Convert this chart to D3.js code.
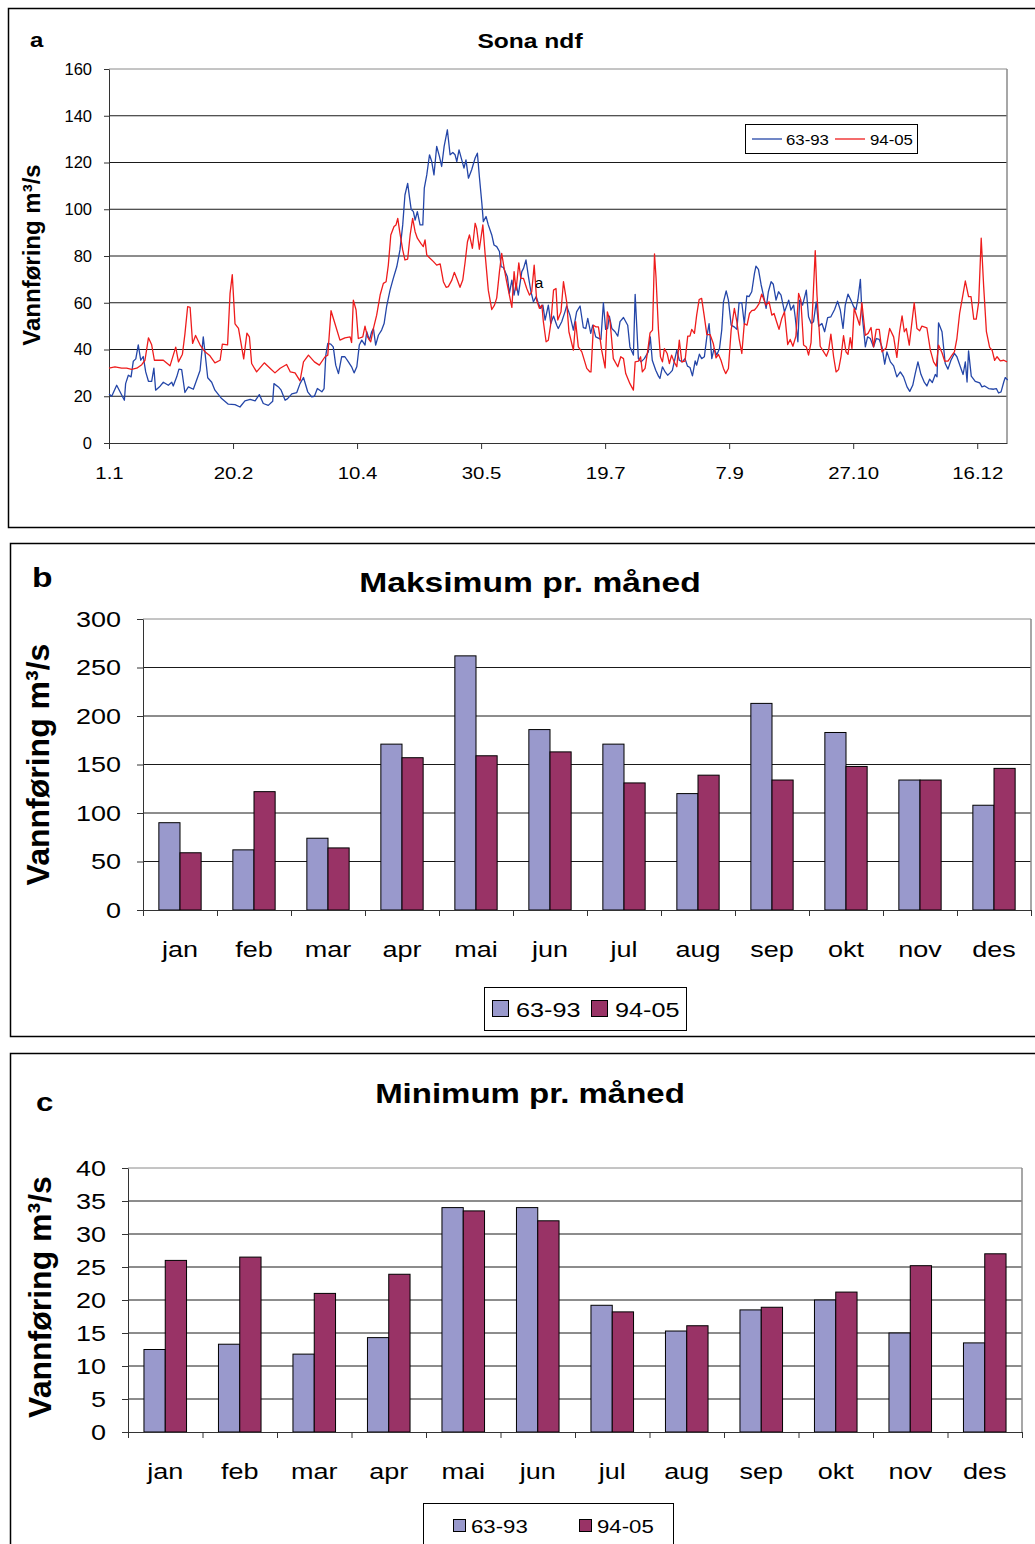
<!DOCTYPE html>
<html><head><meta charset="utf-8">
<script src="https://cdn.jsdelivr.net/npm/d3@7"></script>
<style>body{margin:0;background:#fff}svg{display:block}text{font-family:"Liberation Sans",Arial,sans-serif}</style>
</head><body><svg id="chart" width="1035" height="1544"></svg>
<script>
// ---------- DATA ----------
const seriesNames = ["63-93", "94-05"];
// daily discharge, [day of year (0 = 1 Jan), m3/s]
const flow6393 = [[0,21],[1.1,20],[3.1,24.7],[6.2,18.3],[6.7,25.4],[7.8,29],[8.9,28.3],[9.8,35],[10.8,36],[11.8,42],[12.8,35.4],[13.8,37],[14.8,30.4],[15.9,26.4],[17.2,26.4],[18.1,32],[18.8,22.6],[20.6,24.3],[21.9,26],[23.9,24.7],[25.3,26],[25.9,24.4],[27.3,28.3],[28.2,31.6],[29.3,31.4],[30.6,21.6],[32,24],[34,23],[36.7,31],[38,45.4],[39.8,27.9],[41.4,26],[42.7,22.6],[45.4,19],[48.1,16.6],[50.8,16.4],[52.8,15.4],[54.8,18],[56.9,18.7],[58.9,18],[60.6,20.7],[62.2,16.9],[64.2,16.1],[66,17.9],[66.5,25.4],[68.3,24],[69.4,22.6],[71,18.3],[72,19],[73.7,21],[75.7,21.6],[77,25.4],[78.4,28],[80.1,21.9],[81.7,19.7],[82.8,20],[84,23.3],[85.8,21.9],[86.7,23.3],[87.4,37.6],[88.2,42.6],[89.4,42.3],
[90.4,41.1],[91.4,33.3],[92.5,29.7],[93.8,36.9],[95.1,36.9],[96.5,34.7],[97.8,32.6],[98.8,30],[99.9,32.6],[100.9,41.9],[101.9,44],[103.2,41.9],[103.9,47.6],[105,44],[105.9,47.6],[106.6,49],[107.5,41.9],[108.6,46.1],[109.9,48.3],[110.9,51.1],[111.9,58.3],[113.3,65.4],[114.6,70.4],[116,75.4],[117.3,82.6],[118.4,93.3],[119.3,106.1],[120.4,111.1],[121.1,105.4],[121.8,100],[122.7,99],[123.4,95.4],[124.3,99],[125.4,93.3],[126.5,93.3],[127.1,109],[128.1,114.7],[129.2,123.3],[130.1,120.4],[131,114.7],[132.1,126.9],[133.2,122.6],[134.1,118.3],[135.1,126.9],[136.4,134],[137.5,123.3],[138.6,124.3],[139.5,123.3],[140.2,120.4],[141.1,125.4],[142.2,121.1],[143.1,117.6],[143.9,121.1],[144.9,113.3],[146.2,116.9],[147.6,121.9],[148.5,124],[149.3,114],[150.3,102.6],[150.9,94.7],[152,96.9],[152.9,93.3],[154.3,89],[155.2,84.7],[156.3,84],[157.4,81.9],[158.1,75.4],[159,75.1],[159.7,73.3],[160.6,71.1],[161.4,64],[162.4,69.7],[163.3,63.3],[164.1,68.3],[165,63.3],[166.4,73.3],[167.1,74.7],[168.1,78.3],[169.1,71.1],[170.1,64.7],[171.1,60.4],[172.2,62.6],[173.1,59.7],[174,57.6],[174.9,59],[175.8,52.6],[177.1,59],[178.1,51.1],[179.2,54.3],[180.5,50.4],
[181.1,49],[182.5,51.9],[183.8,56.1],[184.5,58.6],[185.8,54.7],[187.2,48.3],[188.5,56.1],[189.9,58.6],[191.2,49.4],[192.2,49],[193,53.3],[194.2,46.9],[195,50.4],[196.2,45.4],[198.3,44.3],[199.3,60],[200.2,48.6],[201,49],[201.7,54.3],[202.7,49],[204,47.6],[205.1,45.7],[206,51.9],[207.4,53.7],[209.1,50.4],[210,41.1],[211.4,37.6],[212.1,63.6],[213.4,36.1],[214.5,34.7],[215.8,36.1],[217.4,39],[218.2,45.4],[219,35.4],[220.4,31.1],[221.5,28.6],[222.1,27.6],[223.1,32.6],[224.2,30.4],[225.2,29],[226.2,30],[227.1,31.1],[228.9,39.7],[229.9,35.4],[231.1,34.7],[232.2,36.1],[233.2,32.9],[234.2,32.3],[235.2,28.7],[236.3,35.1],[236.9,33.3],[238,38],[238.9,36.1],[240,36.9],[241,45.4],[241.9,51.1],[243,36.1],[243.9,40.4],[245,37.6],[246.1,40.4],[247,48.3],[247.7,60.4],[248.8,65.1],[249.7,61.1],[250.8,50.4],[252,49.7],[253.1,48.6],[254,60],[255.1,60],[256.1,50.9],[257.1,62.9],[258,62.6],[259.1,64.7],[260.2,72.6],[260.8,75.7],[261.8,74.3],[262.9,67.6],[263.8,63.3],[264.9,57.6],[265.8,64.7],[266.9,69],[267.8,67.9],[268.9,61.1],[269.9,64.7],[270.9,63.3],[272.3,56.1],
[274,61.1],[274.9,56.9],[276,59],[276.6,54],[277.7,43.3],[278.4,61.1],[279.6,59],[281.1,65.4],[282,54],[283.1,51.1],[284,51.9],[285.1,60.4],[286.1,50],[287.4,51.1],[288.5,47.6],[289.7,53.6],[291,54],[292.5,57.1],[293.7,60.7],[294.8,56.9],[295.9,49],[296.8,59],[297.9,63.7],[299.1,61.1],[300.2,58.3],[301.1,57.1],[301.9,61.4],[302.9,70],[303.5,56.1],[304.9,41.1],[305.8,45.4],[306.9,44.7],[308.2,41.1],[309.3,44.7],[310.5,44.3],[311.6,41.1],[312.7,33.7],[313.6,39],[315,34.7],[316.3,33],[317.6,28.3],[319,30.4],[320.3,28.3],[321.7,24],[322.8,22.1],[324,24.7],[325,29.7],[326.1,34.7],[327.3,29.4],[328.7,25.9],[329.7,24.4],[330.8,27.3],[331.9,25.9],[333.1,29.3],[333.8,28.3],[334.4,51.4],[335.8,47.6],[337.1,34],[338.2,31.6],[339.4,35.4],[340.8,38.3],[341.8,36.9],[343.2,32.6],[344.3,29.3],[345.2,34.7],[345.9,26.1],[346.5,39.4],[347.6,28.6],[349.2,26.4],[351,25.7],[351.9,24],[353,24.4],[354.6,23.3],[356.6,23],[357.7,23.3],[358.6,21.4],[359.6,21.9],[360.7,26.1],[361.3,28],[362.3,26.9]];
const flow9405 = [[0,32],[2.4,32.6],[5.1,32],[7.1,32],[9.1,31.5],[11.2,32],[13.2,33.5],[14.5,35.4],[15.9,45],[17.2,42],[18.3,35.4],[21.9,35.4],[24.6,33],[26.9,41],[28,34.7],[29.6,38],[30.6,46.6],[31.7,58.3],[32.7,58],[33.7,42.6],[34.9,46],[36.7,42],[38.7,39],[40.7,37.3],[42.7,34.3],[44.8,35.4],[45.7,42.3],[47.8,42],[48.8,64],[49.7,72],[50.8,51],[52.2,49],[54.3,36],[55.6,47],[56.6,45.4],[57.5,34],[59.5,30.4],[62.6,34.3],[64.9,32],[66.9,30],[69,32],[71.6,33.6],[73.1,30.4],[75,30],[77,26.6],[78.4,34.7],[80.4,37.6],[82.8,34.7],[84.8,33.3],[87.1,36.9],[88.2,37.6],[89.5,56.6],
[91.1,51],[93.1,44],[95.1,45],[97.2,45.4],[97.8,43],[98.5,61.1],[99.6,56.9],[100.5,44.7],[102.3,45.4],[103.2,50],[104.2,45.4],[105.5,43.3],[106.6,49],[107.9,54.7],[109.3,63.3],[110.6,68.3],[111.7,69],[112.6,76.1],[113.6,89],[114.9,92.6],[115.7,93.3],[116.4,96.1],[117.3,89.7],[118.4,82.6],[119.3,78.3],[120.4,78.7],[121.4,89],[122.4,96.1],[123.4,90.4],[124.3,87.6],[125.7,85.4],[126.7,84],[127.4,86.9],[128.1,80.4],[129.4,79],[130.8,77.6],[132.1,76.1],[133.5,76.6],[134.8,69],[135.9,66.6],[136.8,66.9],[138.2,69.7],[139.2,73],[140.2,70.4],[141.5,66.6],[142.6,69.7],[143.5,76.9],[144.5,86.1],[145.3,89],[146.5,83.3],[147.6,94],[148.2,91.9],[149.3,82.9],[150.7,93.3],[151.6,81.1],[152.9,65.4],[154.3,57.1],[155.4,59],[156.3,62.1],[157.4,73.3],[158.3,81.1],[159.3,74.7],[160.3,69],[161.4,63.3],[162.4,58],[163.3,73.3],[164.1,65.4],[165.2,77.1],[166,70.4],[167.1,70.4],[168.4,66.1],[169.5,63.3],[170.4,64.7],[171.4,76.1],[172.4,61.1],[173.5,57.6],[174.5,59],[175.1,51.9],[176.2,43.3],[177.1,44],[178.1,51.1],[179.2,65.4],[180.2,66.1],
[180.9,52.6],[182.2,56.1],[183.2,69],[184.5,60.4],[185.4,47.6],[187.2,39.7],[188.1,51.9],[189.2,41.1],[190.6,39],[192.6,31.9],[193.9,30.4],[194.3,30.4],[195.3,50.4],[196.2,49.7],[197.3,49.7],[198.6,39.7],[200,32.1],[200.9,56.1],[202,51.9],[203.3,36.1],[205.1,32.6],[206.3,36.9],[207.4,36.1],[208.3,29.7],[210,25.4],[211.4,22.6],[212.1,34.7],[213.4,35],[214.3,36.9],[215,30.4],[216.1,31.9],[217.2,39.7],[218.1,47.1],[219.1,48.3],[219.9,80.9],[220.5,71.1],[221.5,48.3],[222.3,36.9],[223.1,34.7],[223.9,40.4],[225,38.3],[225.9,34],[226.8,37.6],[227.8,34.7],[228.9,32.6],[229.9,44],[230.9,34.7],[232.2,35],[233.3,45.7],[234.2,45.7],[234.9,48.6],[236,46.9],[236.9,54.7],[237.9,61.4],[238.9,61.9],[239.9,54.7],[241,46.4],[242.3,46.4],[243.6,42.6],[244.7,36.4],[245.7,37.9],[246.7,35.4],[247.7,31.9],[248.6,29.7],[249.7,31.9],[250.8,48.3],[252.1,57.6],[253.1,51.9],[254,44.7],[255.1,38.3],[256.1,51.1],[257.2,50.4],[258.2,55.4],[259.1,56.6],[260.2,56.9],[261.1,58],[262.1,59.7],[263.1,63.7],[263.8,61.9],[264.8,59],[266.1,60.4],[267.2,54.7],[268.1,55.4],[268.9,52.6],[270.1,48.6],[271.2,53.3],[272.3,56.1],
[273.6,42.1],[274.6,44.3],[275.7,41.4],[276.9,45.7],[278,64],[278.9,61.1],[280,41.9],[281.1,41.1],[282,37.6],[283,42.9],[284,66.1],[284.7,82.3],[285.4,63.3],[286.7,41.4],[288.1,39],[289.2,37.1],[290.1,39.7],[291,46.6],[292.1,36.9],[293.1,30.4],[294.1,31.4],[295.1,37.1],[296.1,45.9],[297.1,39],[297.9,37.9],[298.8,45.1],[299.5,40.4],[300.4,57.6],[301.5,54],[302.6,50.4],[303.5,60],[304.9,46.1],[306,46.9],[307.2,49.4],[308.2,41.1],[309.3,48.6],[310.5,48.6],[311.6,39],[313.3,40.7],[314.7,49],[316.3,45.4],[317.6,36.6],[318.7,47.6],[319.7,54.4],[320.6,47.6],[321.4,49],[322.6,41.9],[323.7,51.9],[324.6,60],[325.7,49],[326.8,48],[327.7,50],[329.7,49.3],[331.1,39.7],[332.4,34.7],[333.5,32.9],[334.4,41.9],[335.8,38.6],[336.9,35],[338.2,35],[339.4,36.9],[340.8,39],[341.8,44.7],[342.9,55.4],[344.1,62.6],[345.2,69.3],[346.5,62.6],[347.5,62.6],[348.6,53],[349.6,53],[350.6,60.4],[351.6,87.6],[352.6,66.9],[353.7,47.6],[355,40.9],[356,39.7],[357,35.4],[358,36.9],[359.3,35.1],[360.7,35.4],[362,34.7]];
const dayTicks = [0, 50, 100, 150, 200, 250, 300, 350];
const dayTickLabels = ["1.1", "20.2", "10.4", "30.5", "19.7", "7.9", "27.10", "16.12"];
const flowTicksA = [0, 20, 40, 60, 80, 100, 120, 140, 160];

const months = ["jan","feb","mar","apr","mai","jun","jul","aug","sep","okt","nov","des"];
const max6393 = [90, 62, 74, 171, 262, 186, 171, 120, 213, 183, 134, 108];
const max9405 = [59, 122, 64, 157, 159, 163, 131, 139, 134, 148, 134, 146];
const maxTicks = [0, 50, 100, 150, 200, 250, 300];
const min6393 = [12.5, 13.3, 11.8, 14.3, 34, 34, 19.2, 15.3, 18.5, 20, 15, 13.5];
const min9405 = [26, 26.5, 21, 23.9, 33.5, 32, 18.2, 16.1, 18.9, 21.2, 25.2, 27];
const minTicks = [0, 5, 10, 15, 20, 25, 30, 35, 40];

// ---------- STYLE ----------
const lineColors = ["#2446a8", "#ee1c1c"];
const barColors = ["#9999cc", "#993366"];
const SX = 1.2; // horizontal stretch seen in reference text

const svg = d3.select("#chart");

function label(g, x, y, s, size, opts = {}) {
  return g.append("text")
    .attr("transform", `translate(${x},${y}) scale(${opts.sx ?? SX},1)`)
    .attr("text-anchor", opts.anchor || "middle")
    .attr("font-size", size)
    .attr("font-weight", opts.bold ? "bold" : "normal")
    .attr("fill", "#000")
    .text(s);
}
function vlabel(g, x, y, s, size) {
  return g.append("text")
    .attr("transform", `translate(${x},${y}) rotate(-90)`)
    .attr("text-anchor", "middle").attr("dominant-baseline", "central")
    .attr("font-size", size).attr("font-weight", "bold").text(s);
}
function styleAxis(g, size, sx, color = "#333") {
  g.attr("font-family", null).attr("font-size", size);
  g.selectAll("path.domain").attr("stroke", color).attr("stroke-width", 1);
  g.selectAll(".tick line").attr("stroke", color).attr("stroke-width", 1);
  g.selectAll(".tick text").attr("fill", "#000");
  if (sx) g.selectAll(".tick text").each(function () {
    const t = d3.select(this);
    const x = +t.attr("x") || 0;
    t.attr("x", x / sx).attr("transform", `scale(${sx},1)`);
  });
}

// ---------- FRAMES ----------
svg.append("rect").attr("x", 8.5).attr("y", 8.5).attr("width", 1040).attr("height", 519)
  .attr("fill", "none").attr("stroke", "#000").attr("stroke-width", 1.5);
svg.append("rect").attr("x", 10.5).attr("y", 543.5).attr("width", 1040).attr("height", 493)
  .attr("fill", "none").attr("stroke", "#000").attr("stroke-width", 1.5);
svg.append("rect").attr("x", 10.5).attr("y", 1053.5).attr("width", 1040).attr("height", 600)
  .attr("fill", "none").attr("stroke", "#000").attr("stroke-width", 1.5);

// ---------- PANEL A ----------
{
  const g = svg.append("g");
  const x = d3.scaleLinear().domain([0, 362]).range([109, 1007]);
  const y = d3.scaleLinear().domain([0, 160]).range([443, 69]);
  g.append("g").selectAll("line").data(flowTicksA.slice(1)).join("line")
    .attr("x1", x(0)).attr("x2", x(362)).attr("y1", d => y(d)).attr("y2", d => y(d))
    .attr("stroke", d => d === 160 ? "#8a8a8a" : "#1a1a1a").attr("stroke-width", 1);
  g.append("line").attr("x1", x(362)).attr("x2", x(362)).attr("y1", y(160)).attr("y2", y(0))
    .attr("stroke", "#8a8a8a").attr("stroke-width", 1.5);

  const ay = g.append("g").attr("transform", `translate(${x(0)},0)`)
    .call(d3.axisLeft(y).tickValues(flowTicksA).tickSize(5).tickSizeOuter(0).tickPadding(12));
  styleAxis(ay, 16.5, 1.0);
  const ax = g.append("g").attr("transform", `translate(0,${y(0)})`)
    .call(d3.axisBottom(x).tickValues(dayTicks).tickFormat((d, i) => dayTickLabels[i])
      .tickSize(6).tickSizeOuter(0).tickPadding(18));
  styleAxis(ax, 17, 1.2);

  const line = d3.line().x(d => x(d[0])).y(d => y(d[1]));
  [flow6393, flow9405].forEach((s, i) => {
    g.append("path").datum(s).attr("d", line).attr("fill", "none")
      .attr("stroke", lineColors[i]).attr("stroke-width", 1.3).attr("stroke-linejoin", "round");
  });
  // stray data label
  label(g, x(171.6), y(66.2), "a", 14, { anchor: "start", sx: 1.1 });

  // legend
  const lg = g.append("g");
  lg.append("rect").attr("x", 745.5).attr("y", 124.5).attr("width", 172).attr("height", 29)
    .attr("fill", "#fff").attr("stroke", "#000");
  [[752, 786], [835, 870]].forEach((p, i) => {
    lg.append("line").attr("x1", p[0]).attr("x2", p[0] + 30).attr("y1", 139).attr("y2", 139)
      .attr("stroke", lineColors[i]).attr("stroke-width", 1.3);
    label(lg, p[1], 144.5, seriesNames[i], 14, { anchor: "start" });
  });

  label(g, 530, 48, "Sona ndf", 20.5, { bold: true });
  label(g, 30, 47, "a", 20, { bold: true, anchor: "start" });
  vlabel(g, 31, 255, "Vannføring m³/s", 24);
}

// ---------- BAR PANELS ----------
function barPanel(cfg) {
  const g = svg.append("g");
  const x = d3.scaleBand().domain(months).range([cfg.left, cfg.right]);
  const xb = d3.scaleLinear().domain([0, months.length]).range([cfg.left, cfg.right]);
  const y = d3.scaleLinear().domain([0, cfg.max]).range([cfg.bottom, cfg.top]);
  g.append("g").selectAll("line").data(cfg.ticks.slice(1)).join("line")
    .attr("x1", cfg.left).attr("x2", cfg.right).attr("y1", d => y(d)).attr("y2", d => y(d))
    .attr("stroke", d => d === cfg.max ? "#8a8a8a" : "#1a1a1a").attr("stroke-width", 1);
  g.append("line").attr("x1", cfg.right).attr("x2", cfg.right).attr("y1", cfg.top).attr("y2", cfg.bottom)
    .attr("stroke", "#8a8a8a").attr("stroke-width", 1.5);

  const bw = x.bandwidth() / 3.5;
  [cfg.a, cfg.b].forEach((vals, si) => {
    g.append("g").selectAll("rect").data(vals).join("rect")
      .attr("x", (d, i) => x(months[i]) + 0.75 * bw + si * bw)
      .attr("width", bw)
      .attr("y", d => y(d)).attr("height", d => y(0) - y(d))
      .attr("fill", barColors[si]).attr("stroke", "#000").attr("stroke-width", 1);
  });

  const ay = g.append("g").attr("transform", `translate(${cfg.left},0)`)
    .call(d3.axisLeft(y).tickValues(cfg.ticks).tickSize(6).tickSizeOuter(0).tickPadding(16));
  styleAxis(ay, 22.5, SX);
  const ax = g.append("g").attr("transform", `translate(0,${cfg.bottom})`)
    .call(d3.axisBottom(xb).ticks(12).tickFormat("").tickSize(6).tickSizeOuter(0));
  styleAxis(ax, 22.5, null);
  const axl = g.append("g").attr("transform", `translate(0,${cfg.bottom})`)
    .call(d3.axisBottom(x).tickSize(0).tickPadding(cfg.labelPad));
  axl.select("path.domain").remove();
  styleAxis(axl, 22.5, SX);

  label(g, 530, cfg.titleY, cfg.title, cfg.titleSize, { bold: true });
  label(g, cfg.letterX, cfg.letterY, cfg.letter, cfg.letterSize, { bold: true, anchor: "start" });
  vlabel(g, cfg.yTitleX, (cfg.top + cfg.bottom) / 2 + cfg.yTitleShift, "Vannføring m³/s", 32);

  const L = cfg.legend;
  g.append("rect").attr("x", L.x + 0.5).attr("y", L.y + 0.5).attr("width", L.w).attr("height", L.h)
    .attr("fill", "#fff").attr("stroke", "#000");
  L.items.forEach((it, i) => {
    g.append("rect").attr("x", it[0] + 0.5).attr("y", L.sy + 0.5).attr("width", L.s).attr("height", L.s)
      .attr("fill", barColors[i]).attr("stroke", "#000");
    label(g, it[1], L.ty, seriesNames[i], L.fs, { anchor: "start" });
  });
}

barPanel({
  left: 143, right: 1031, top: 619, bottom: 910, max: 300, ticks: maxTicks,
  a: max6393, b: max9405, labelPad: 31,
  title: "Maksimum pr. måned", titleY: 592, titleSize: 28,
  letter: "b", letterX: 32, letterY: 587, letterSize: 28,
  yTitleX: 38, yTitleShift: 0,
  legend: { x: 484, y: 987, w: 202, h: 43, sy: 1000, s: 16, ty: 1017, fs: 21, items: [[492, 516], [591, 615]] }
});
barPanel({
  left: 128, right: 1022, top: 1168, bottom: 1432, max: 40, ticks: minTicks,
  a: min6393, b: min9405, labelPad: 31,
  title: "Minimum pr. måned", titleY: 1103, titleSize: 27.5,
  letter: "c", letterX: 36, letterY: 1111, letterSize: 26,
  yTitleX: 40, yTitleShift: -3,
  legend: { x: 423, y: 1503, w: 250, h: 60, sy: 1519, s: 12, ty: 1533, fs: 18.5, items: [[453, 471], [579, 597]] }
});
</script></body></html>
